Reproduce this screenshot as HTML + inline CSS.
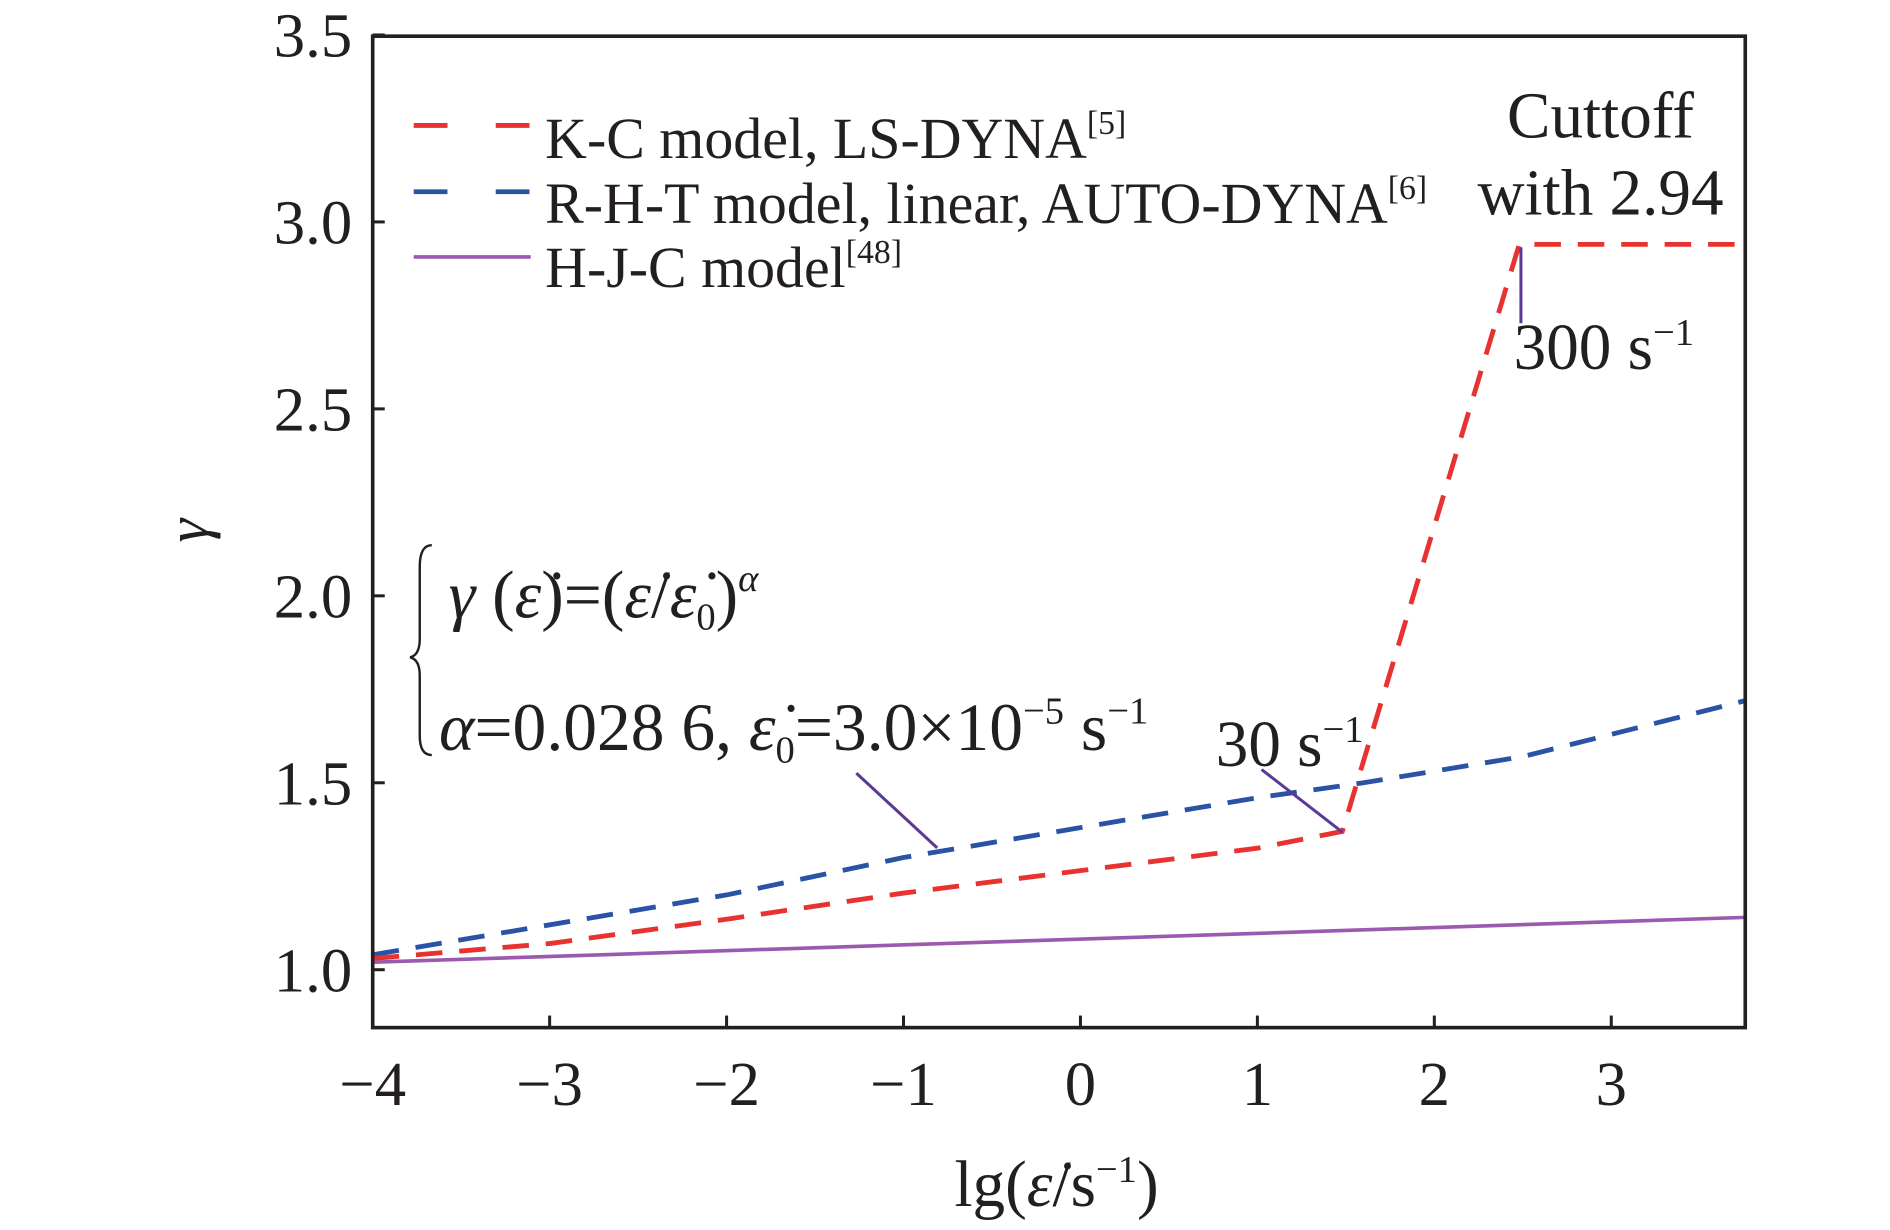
<!DOCTYPE html>
<html><head><meta charset="utf-8"><style>
html,body{margin:0;padding:0;background:#fff}
svg{display:block}
text{font-family:"Liberation Serif",serif;fill:#231f20}
</style></head><body>
<svg width="1890" height="1230" viewBox="0 0 1567 1019.8" xmlns="http://www.w3.org/2000/svg">
<g id="marks"></g>
<rect x="309" y="30" width="1138" height="822" fill="none" stroke="#231f20" stroke-width="3"/>
<g id="ticks"></g>
<text x="0" y="0" font-size="50" font-style="italic" transform="translate(172,440) rotate(-90)" text-anchor="middle">γ</text>
<text x="876" y="1000" font-size="54" text-anchor="middle">lg(<tspan font-style="italic">ε̇</tspan>/s<tspan font-size="32" dy="-20">−1</tspan><tspan dy="20">)</tspan></text>
<g font-size="48">
<line x1="343" y1="104" x2="440" y2="104" stroke="#e8322f" stroke-width="4" stroke-dasharray="28,40"/>
<text x="452" y="131">K-C model, LS-DYNA<tspan font-size="28" dy="-20">[5]</tspan></text>
<line x1="343" y1="159" x2="440" y2="159" stroke="#2a52a5" stroke-width="4" stroke-dasharray="28,40"/>
<text x="452" y="185">R-H-T model, linear, AUTO-DYNA<tspan font-size="28" dy="-20">[6]</tspan></text>
<line x1="343" y1="213" x2="440" y2="213" stroke="#9b59b0" stroke-width="3"/>
<text x="452" y="238">H-J-C model<tspan font-size="28" dy="-20">[48]</tspan></text>
</g>
<g font-size="54">
<text x="1327" y="114" text-anchor="middle">Cuttoff</text>
<text x="1327" y="178" text-anchor="middle">with 2.94</text>
<text x="1255" y="306">300 s<tspan font-size="32" dy="-20">−1</tspan></text>
<text x="1008" y="635">30 s<tspan font-size="32" dy="-20">−1</tspan></text>
<path d="M358,452 Q348,452 348,470 L348,530 Q348,543 340,545 Q348,547 348,560 L348,610 Q348,626 358,626" fill="none" stroke="#231f20" stroke-width="2"/>
<text x="372" y="512" font-size="56"><tspan font-style="italic">γ</tspan> (<tspan font-style="italic">ε̇</tspan>)=(<tspan font-style="italic">ε̇</tspan>/<tspan font-style="italic">ε̇</tspan><tspan font-size="32" dy="10">0</tspan><tspan dy="-10">)</tspan><tspan font-size="32" dy="-22" font-style="italic">α</tspan></text>
<text x="364" y="622" font-size="56"><tspan font-style="italic">α</tspan>=0.028 6, <tspan font-style="italic">ε̇</tspan><tspan font-size="32" dy="10">0</tspan><tspan dy="-10">=3.0×10</tspan><tspan font-size="32" dy="-22">−5</tspan><tspan dy="22"> s</tspan><tspan font-size="32" dy="-22">−1</tspan></text>
<line x1="710" y1="641" x2="777" y2="703" stroke="#5b3a95" stroke-width="2.5"/>
<line x1="1046" y1="638" x2="1113" y2="690" stroke="#5b3a95" stroke-width="2.5"/>
<line x1="1261" y1="205" x2="1261" y2="268" stroke="#5b3a95" stroke-width="2.5"/>
</g>
<script>
const xTicks=[-4,-3,-2,-1,0,1,2,3];
const yTicks=[1.0,1.5,2.0,2.5,3.0,3.5];
const kcX=[-4,-3,-2,-1,0,1,1.48,2.48,3.76];
const kcY=[1.03,1.07,1.135,1.205,1.265,1.325,1.37,2.94,2.94];
const rhtX=[-4,-2,-1,0,1,1.6,2.5,3.76];
const rhtY=[1.04,1.2,1.3,1.38,1.46,1.5,1.57,1.72];
const hjcX=[-4,3.76];
const hjcY=[1.02,1.14];
const sx=v=>309+(v+4)*146.7;
const sy=v=>804-(v-1)*310;
const NS='http://www.w3.org/2000/svg';
const marks=document.getElementById('marks'),ticks=document.getElementById('ticks');
function poly(xs,ys,color,w,dash,name){
  const p=document.createElementNS(NS,'polyline');
  p.setAttribute('points',xs.map((x,i)=>sx(x)+','+sy(ys[i])).join(' '));
  p.setAttribute('fill','none');p.setAttribute('stroke',color);p.setAttribute('stroke-width',w);
  if(dash)p.setAttribute('stroke-dasharray',dash);
  
  
  marks.appendChild(p);
}
poly(hjcX,hjcY,'#9b59b0',3,null,'hjc-line');
poly(rhtX,rhtY,'#2a52a5',4,'22,14','rht-line');
poly(kcX,kcY,'#e8322f',4,'22,14','kc-line');
xTicks.forEach(v=>{
  const l=document.createElementNS(NS,'line');
  l.setAttribute('x1',sx(v));l.setAttribute('x2',sx(v));l.setAttribute('y1',852);l.setAttribute('y2',842);
  l.setAttribute('stroke','#231f20');l.setAttribute('stroke-width',2.5);
  
  
  ticks.appendChild(l);
  const t=document.createElementNS(NS,'text');
  t.setAttribute('x',sx(v));t.setAttribute('y',916);t.setAttribute('font-size',52);t.setAttribute('text-anchor','middle');
  t.textContent=v<0?'−'+(-v):String(v);
  
  
  ticks.appendChild(t);
});
yTicks.forEach(v=>{
  const l=document.createElementNS(NS,'line');
  l.setAttribute('x1',309);l.setAttribute('x2',319);l.setAttribute('y1',sy(v));l.setAttribute('y2',sy(v));
  l.setAttribute('stroke','#231f20');l.setAttribute('stroke-width',2.5);
  
  
  ticks.appendChild(l);
  const t=document.createElementNS(NS,'text');
  t.setAttribute('x',292);t.setAttribute('y',sy(v)+18);t.setAttribute('font-size',52);t.setAttribute('text-anchor','end');
  t.textContent=v.toFixed(1);
  
  
  ticks.appendChild(t);
});
</script>
</svg>
</body></html>
